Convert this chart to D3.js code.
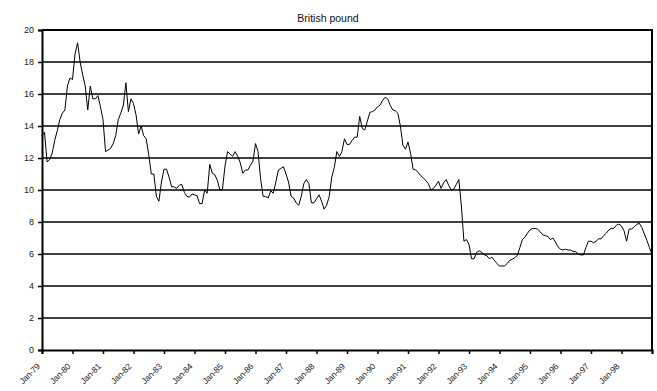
<!DOCTYPE html>
<html>
<head>
<meta charset="utf-8">
<script src="https://cdn.jsdelivr.net/npm/d3@7"></script>
<style>
  html, body { margin: 0; padding: 0; background: #fff; }
  svg { display: block; font-family: "Liberation Sans", Arial, sans-serif; }
</style>
</head>
<body>
<svg id="chart" width="657" height="391"></svg>
<script>
// Monthly series, Jan-79 through Jan-99
const values = [
  13.4, 13.6, 11.75, 11.9, 12.3, 13.1, 13.7, 14.4, 14.8, 15.0, 16.5, 17.0,   // 1979
  16.9, 18.5, 19.2, 18.0, 17.2, 16.5, 15.0, 16.5, 15.7, 15.7, 15.9, 15.2,    // 1980
  14.4, 12.4, 12.5, 12.6, 12.9, 13.4, 14.4, 14.8, 15.3, 16.7, 14.9, 15.7,    // 1981
  15.4, 14.7, 13.5, 14.0, 13.4, 13.2, 12.2, 11.0, 11.0, 9.6, 9.3, 10.5,      // 1982
  11.3, 11.3, 10.8, 10.2, 10.2, 10.1, 10.3, 10.35, 9.85, 9.6, 9.55, 9.75,    // 1983
  9.7, 9.65, 9.15, 9.15, 10.0, 9.8, 11.6, 11.05, 10.95, 10.6, 10.0, 10.05,   // 1984
  11.5, 12.4, 12.25, 12.1, 12.4, 12.1, 11.7, 11.05, 11.25, 11.25, 11.55, 11.8, // 1985
  12.9, 12.4, 10.7, 9.6, 9.6, 9.5, 9.95, 9.8, 10.5, 11.25, 11.35, 11.45,     // 1986
  11.0, 10.5, 9.6, 9.5, 9.2, 9.05, 9.6, 10.4, 10.65, 10.4, 9.2, 9.2,         // 1987
  9.45, 9.7, 9.3, 8.8, 9.05, 9.6, 10.8, 11.4, 12.4, 12.1, 12.4, 13.2,        // 1988
  12.85, 12.85, 13.1, 13.3, 13.3, 14.6, 13.85, 13.75, 14.3, 14.85, 14.9, 15.0, // 1989
  15.2, 15.3, 15.6, 15.8, 15.7, 15.3, 15.0, 14.95, 14.8, 14.0, 12.8, 12.55,  // 1990
  13.0, 12.3, 11.3, 11.25, 11.1, 10.9, 10.75, 10.6, 10.4, 10.0, 10.1, 10.3,  // 1991
  10.55, 10.1, 10.45, 10.65, 10.3, 10.0, 10.05, 10.35, 10.65, 9.0, 6.8, 6.9, // 1992
  6.6, 5.7, 5.7, 6.1, 6.2, 6.1, 5.95, 5.9, 5.7, 5.8, 5.6, 5.4,               // 1993
  5.25, 5.25, 5.25, 5.4, 5.6, 5.67, 5.77, 5.9, 6.4, 6.9, 7.05, 7.3,          // 1994
  7.5, 7.6, 7.6, 7.55, 7.4, 7.2, 7.15, 7.1, 6.9, 7.0, 6.75, 6.45,            // 1995
  6.3, 6.25, 6.3, 6.25, 6.25, 6.15, 6.15, 6.0, 5.94, 5.94, 6.4, 6.8,         // 1996
  6.8, 6.7, 6.8, 6.95, 6.95, 7.15, 7.3, 7.5, 7.6, 7.6, 7.8, 7.87,            // 1997
  7.75, 7.45, 6.8, 7.55, 7.57, 7.7, 7.85, 7.92, 7.65, 7.25, 6.85, 6.4,       // 1998
  5.95                                                                        // Jan 1999
];

// Year labels placed on every January tick
const tickLabels = ["Jan-79", "Jan-80", "Jan-81", "Jan-82", "Jan-83", "Jan-84", "Jan-85",
  "Jan-86", "Jan-87", "Jan-88", "Jan-89", "Jan-90", "Jan-91", "Jan-92", "Jan-93",
  "Jan-94", "Jan-95", "Jan-96", "Jan-97", "Jan-98"];

const yTicks = [0, 2, 4, 6, 8, 10, 12, 14, 16, 18, 20];
const chartTitle = "British pound";

const svg = d3.select("#chart");
const plotLeft = 42, plotRight = 652, plotTop = 30, plotBottom = 350;

const x = d3.scaleLinear().domain([0, values.length - 1]).range([plotLeft, plotRight]);
const y = d3.scaleLinear().domain([0, 20]).range([plotBottom, plotTop]);

// Horizontal gridlines
svg.append("g")
  .selectAll("line")
  .data(yTicks.filter(d => d > 0 && d < 20))
  .join("line")
  .attr("x1", plotLeft).attr("x2", plotRight)
  .attr("y1", d => y(d)).attr("y2", d => y(d))
  .attr("stroke", "#000").attr("stroke-width", 1.6);

// Plot frame (top and right edges)
svg.append("path")
  .attr("d", `M${plotLeft},${plotTop}H${plotRight}V${plotBottom}`)
  .attr("fill", "none").attr("stroke", "#000").attr("stroke-width", 2);

// Y axis
const yAxis = svg.append("g")
  .attr("transform", `translate(${plotLeft},0)`)
  .call(d3.axisLeft(y).tickValues(yTicks).tickSize(4).tickPadding(4));
yAxis.select(".domain").attr("stroke", "#000").attr("stroke-width", 2);
yAxis.selectAll(".tick line").attr("stroke", "#000").attr("stroke-width", 1.5);
yAxis.selectAll("text").attr("font-size", 9).attr("fill", "#222")
  .attr("font-family", "Liberation Sans, Arial, sans-serif");

// X axis: one tick per January
const xTickIdx = d3.range(0, values.length, 12);
const xAxis = svg.append("g")
  .attr("transform", `translate(0,${plotBottom})`)
  .call(d3.axisBottom(x).tickValues(xTickIdx).tickSize(4)
    .tickFormat((d, i) => tickLabels[i] || ""));
xAxis.select(".domain").attr("stroke", "#000").attr("stroke-width", 2);
xAxis.selectAll(".tick line").attr("stroke", "#000").attr("stroke-width", 1.5);
xAxis.selectAll("text")
  .attr("font-size", 8.5).attr("fill", "#222")
  .attr("font-family", "Liberation Sans, Arial, sans-serif")
  .attr("letter-spacing", -0.2)
  .attr("text-anchor", "end")
  .attr("dy", null)
  .attr("y", 0)
  .attr("transform", "translate(-2,17) rotate(-45)");

// Series line
const line = d3.line().x((d, i) => x(i)).y(d => y(d));
svg.append("path")
  .datum(values)
  .attr("d", line)
  .attr("fill", "none")
  .attr("stroke", "#000")
  .attr("stroke-width", 1)
  .attr("stroke-linejoin", "round");

// Title
svg.append("text")
  .attr("x", 328).attr("y", 22)
  .attr("text-anchor", "middle")
  .attr("font-size", 10.5).attr("fill", "#111")
  .text(chartTitle);
</script>
</body>
</html>
